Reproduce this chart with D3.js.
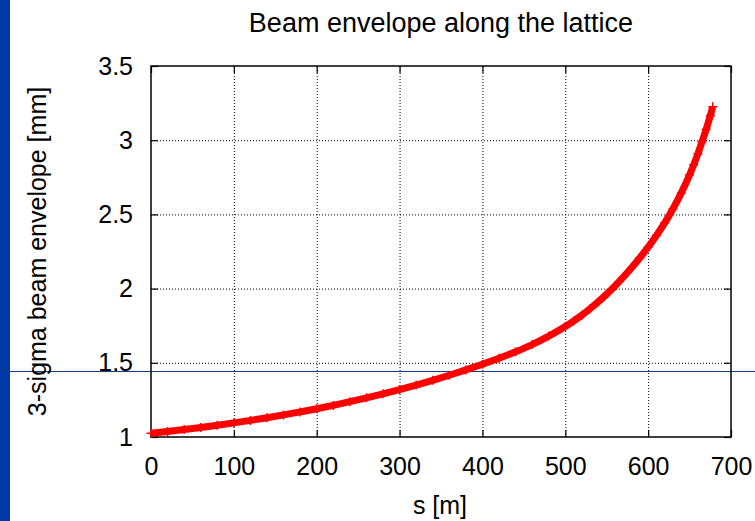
<!DOCTYPE html>
<html>
<head>
<meta charset="utf-8">
<script src="https://cdn.jsdelivr.net/npm/d3@7"></script>
<style>
  body { margin: 0; background: #fff; }
  text { font-family: "Liberation Sans", Arial, sans-serif; fill: #000; }
</style>
</head>
<body>
<div id="my_dataviz"></div>
<script>
// values
var sPos = [0, 20, 40, 60, 80, 100, 120, 140, 160, 180, 200, 220, 240, 260, 280, 300,
  320, 340, 360, 380, 400, 420, 440, 460, 480, 500, 510, 520, 530, 540, 550, 560,
  570, 580, 590, 600, 610, 620, 630, 640, 650, 655, 660, 665, 670, 675, 678];
var envelope = [1.025, 1.037, 1.05, 1.064, 1.079, 1.095, 1.112, 1.13, 1.149, 1.169, 1.19, 1.213,
  1.238, 1.264, 1.291, 1.32, 1.35, 1.382, 1.416, 1.452, 1.49, 1.53, 1.574, 1.623, 1.68,
  1.745, 1.781, 1.821, 1.865, 1.912, 1.963, 2.018, 2.077, 2.14, 2.208, 2.28, 2.358, 2.443,
  2.538, 2.645, 2.767, 2.835, 2.908, 2.988, 3.073, 3.165, 3.225];
var xTicks = [0, 100, 200, 300, 400, 500, 600, 700];
var yTicks = [1, 1.5, 2, 2.5, 3, 3.5];
var yTickLabels = ["1", "1.5", "2", "2.5", "3", "3.5"];

var data = sPos.map(function(s, i) { return {s: s, v: envelope[i]}; });

var W = 755, H = 521;
var margin = {top: 66, right: 24, bottom: 84, left: 151};
var width = W - margin.left - margin.right;
var height = H - margin.top - margin.bottom;

var svg = d3.select("#my_dataviz")
  .append("svg")
  .attr("width", W)
  .attr("height", H);

var x = d3.scaleLinear().domain([0, 700]).range([margin.left, margin.left + width]);
var y = d3.scaleLinear().domain([1, 3.5]).range([margin.top + height, margin.top]);

// slide decoration: blue bar on the left
svg.append("rect")
  .attr("x", 0).attr("y", 0)
  .attr("width", 10).attr("height", H)
  .attr("fill", "#0039a6");

// grid (dotted)
svg.append("g")
  .attr("transform", "translate(0," + (margin.top + height) + ")")
  .call(d3.axisBottom(x).tickValues(xTicks.slice(1, -1)).tickSize(-height).tickFormat(""))
  .call(function(g) { g.select(".domain").remove(); })
  .selectAll("line")
    .attr("stroke", "#000")
    .attr("stroke-dasharray", "1,2");
svg.append("g")
  .attr("transform", "translate(" + margin.left + ",0)")
  .call(d3.axisLeft(y).tickValues(yTicks.slice(1, -1)).tickSize(-width).tickFormat(""))
  .call(function(g) { g.select(".domain").remove(); })
  .selectAll("line")
    .attr("stroke", "#000")
    .attr("stroke-dasharray", "1,2");

// inward tick marks on all four sides
function ticks(axis, tx, ty) {
  svg.append("g")
    .attr("transform", "translate(" + tx + "," + ty + ")")
    .call(axis.tickSize(-7).tickFormat(""))
    .call(function(g) { g.select(".domain").remove(); })
    .selectAll("line").attr("stroke", "#000").attr("stroke-width", 1.2);
}
ticks(d3.axisBottom(x).tickValues(xTicks), 0, margin.top + height);
ticks(d3.axisTop(x).tickValues(xTicks), 0, margin.top);
ticks(d3.axisLeft(y).tickValues(yTicks), margin.left, 0);
ticks(d3.axisRight(y).tickValues(yTicks), margin.left + width, 0);

// tick labels
var xAxis = svg.append("g")
  .attr("transform", "translate(0," + (margin.top + height) + ")")
  .call(d3.axisBottom(x).tickValues(xTicks).tickSize(0).tickPadding(20).tickFormat(d3.format("d")));
xAxis.select(".domain").remove();
xAxis.selectAll("text").style("font-size", "25px").attr("fill", "#000");

var yAxis = svg.append("g")
  .attr("transform", "translate(" + margin.left + ",0)")
  .call(d3.axisLeft(y).tickValues(yTicks).tickSize(0).tickPadding(18)
    .tickFormat(function(d, i) { return yTickLabels[i]; }));
yAxis.select(".domain").remove();
yAxis.selectAll("text").style("font-size", "25px").attr("fill", "#000");

// slide decoration: thin horizontal rule
svg.append("line")
  .attr("x1", 0).attr("x2", W)
  .attr("y1", 371.5).attr("y2", 371.5)
  .attr("stroke", "#163a8a")
  .attr("stroke-width", 1);

// frame
svg.append("rect")
  .attr("x", margin.left).attr("y", margin.top)
  .attr("width", width).attr("height", height)
  .attr("fill", "none")
  .attr("stroke", "#000")
  .attr("stroke-width", 1.5);

// envelope: dense '+' points drawn as a thick band plus markers
svg.append("path")
  .datum(data)
  .attr("fill", "none")
  .attr("stroke", "#ff0000")
  .attr("stroke-width", 7)
  .attr("d", d3.line()
    .x(function(d) { return x(d.s); })
    .y(function(d) { return y(d.v); })
    .curve(d3.curveMonotoneX));

svg.selectAll("mypoint")
  .data(data)
  .enter()
  .append("path")
    .attr("transform", function(d) { return "translate(" + x(d.s) + "," + y(d.v) + ")"; })
    .attr("d", "M-4.5,0H4.5M0,-4.5V4.5")
    .attr("stroke", "#ff0000")
    .attr("stroke-width", 1.5);

// titles
svg.append("text")
  .attr("x", 441).attr("y", 32)
  .attr("text-anchor", "middle")
  .style("font-size", "27px")
  .text("Beam envelope along the lattice");

svg.append("text")
  .attr("x", 440).attr("y", 514)
  .attr("text-anchor", "middle")
  .style("font-size", "25px")
  .text("s [m]");

svg.append("text")
  .attr("transform", "translate(46," + (margin.top + height / 2) + ")rotate(-90)")
  .attr("text-anchor", "middle")
  .style("font-size", "25px")
  .text("3-sigma beam envelope [mm]");
</script>
</body>
</html>
